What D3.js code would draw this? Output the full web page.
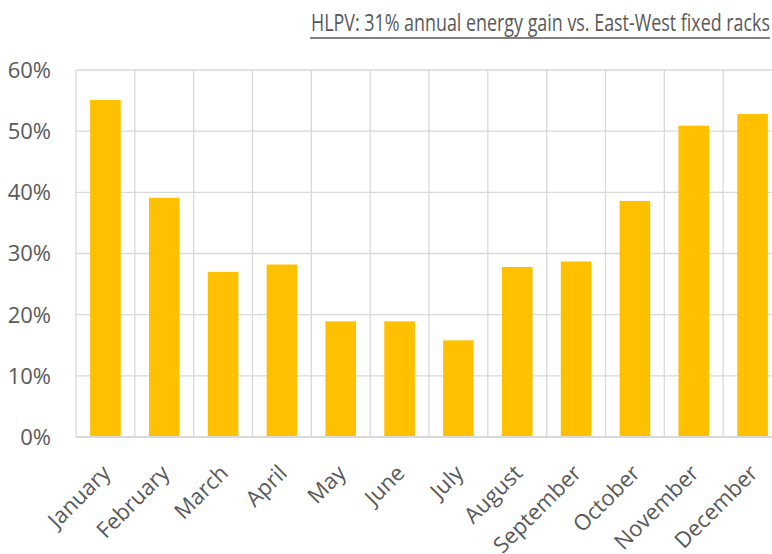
<!DOCTYPE html>
<html>
<head>
<meta charset="utf-8">
<script src="https://cdn.jsdelivr.net/npm/d3@7"></script>
<style>
  body { margin: 0; background: #fff; }
  svg { display: block; font-family: "Open Sans", "DejaVu Sans", sans-serif; }
</style>
</head>
<body>
<svg width="772" height="554"></svg>
<script>
const months = ['January', 'February', 'March', 'April', 'May', 'June', 'July',
    'August', 'September', 'October', 'November', 'December'];
const gains = [55.1, 39.1, 27.0, 28.2, 18.9, 18.9, 15.8, 27.8, 28.7, 38.6, 50.9, 52.8];
const yTicks = [0, 10, 20, 30, 40, 50, 60];
const titleText = 'HLPV: 31% annual energy gain vs. East-West fixed racks';

const svg = d3.select('svg');
const plotLeft = 76, plotRight = 782, plotTop = 70, plotBottom = 437;
const grey = '#d9d9d9';
const textColor = '#595959';

const x = d3.scaleBand()
    .domain(months)
    .range([plotLeft, plotRight])
    .paddingInner(0.48)
    .paddingOuter(0.24);

const y = d3.scaleLinear()
    .domain([0, 60])
    .range([plotBottom, plotTop]);

// horizontal gridlines
svg.append('g')
    .selectAll('line')
    .data(yTicks)
    .enter()
    .append('line')
    .attr('x1', plotLeft)
    .attr('x2', plotRight)
    .attr('y1', d => y(d))
    .attr('y2', d => y(d))
    .attr('stroke', grey)
    .attr('stroke-width', 1.3);

// vertical gridlines between categories
const step = x.step();
svg.append('g')
    .selectAll('line')
    .data(d3.range(months.length + 1))
    .enter()
    .append('line')
    .attr('x1', i => plotLeft + i * step)
    .attr('x2', i => plotLeft + i * step)
    .attr('y1', plotTop)
    .attr('y2', plotBottom)
    .attr('stroke', grey)
    .attr('stroke-width', 1.3);

svg.append('g')
    .selectAll('rect')
    .data(months)
    .enter()
    .append('rect')
    .attr('x', (d) => x(d))
    .attr('width', x.bandwidth())
    .attr('y', (d, i) => y(gains[i]))
    .attr('height', (d, i) => y(0) - y(gains[i]))
    .attr('fill', '#ffc000');

// baseline
svg.append('line')
    .attr('x1', plotLeft)
    .attr('x2', plotRight)
    .attr('y1', y(0))
    .attr('y2', y(0))
    .attr('stroke', grey)
    .attr('stroke-width', 2);

// y tick labels
svg.append('g')
    .selectAll('text')
    .data(yTicks)
    .enter()
    .append('text')
    .attr('x', 51)
    .attr('y', d => y(d))
    .attr('dy', '0.36em')
    .attr('text-anchor', 'end')
    .style('font-size', '22px')
    .style('fill', textColor)
    .text(d => d + '%');

// month labels
svg.append('g')
    .selectAll('text')
    .data(months)
    .enter()
    .append('text')
    .attr('text-anchor', 'end')
    .attr('transform', d => `translate(${x(d) + x.bandwidth() / 2 + 1},${plotBottom + 32}) rotate(-45)`)
    .attr('dy', '0.35em')
    .style('font-size', '22px')
    .style('fill', textColor)
    .text(d => d);

// title, right aligned and underlined
svg.append('text')
    .attr('x', 770)
    .attr('y', 31)
    .attr('text-anchor', 'end')
    .attr('textLength', 459)
    .attr('lengthAdjust', 'spacingAndGlyphs')
    .style('font-size', '23px')
    .style('fill', textColor)
    .text(titleText);
svg.append('line')
    .attr('x1', 310)
    .attr('x2', 770)
    .attr('y1', 38)
    .attr('y2', 38)
    .attr('stroke', textColor)
    .attr('stroke-width', 1.5);
</script>
</body>
</html>
